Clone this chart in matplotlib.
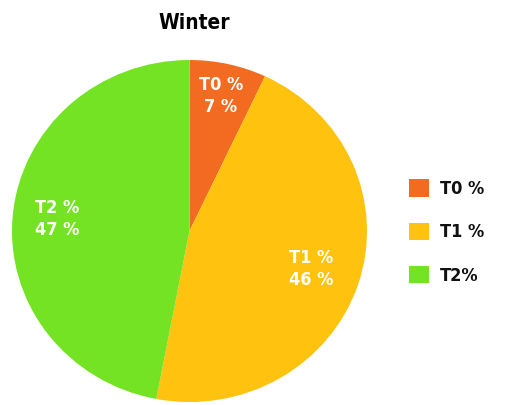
import matplotlib.pyplot as plt
import numpy as np

# data
labels = ['T0 %', 'T1 %', 'T2%']
slice_text = ['T0 %', 'T1 %', 'T2 %']
values = [7, 46, 47]
colors = ['#F26B21', '#FFC20E', '#74E324']
text_r = [0.81, 0.72, 0.75]

fam = ['DejaVu Sans']

fig = plt.figure(figsize=(5.07, 4.05), dpi=100)
ax = fig.add_axes([12/507, 3/405, 355/507, 342/405])

wedges, _ = ax.pie(values, colors=colors, startangle=90, counterclock=False,
                   wedgeprops=dict(linewidth=0))
ax.set_aspect('auto')
ax.set_xlim(-1, 1)
ax.set_ylim(-1, 1)

# slice labels
for w, t, v, r in zip(wedges, slice_text, values, text_r):
    ang = np.deg2rad((w.theta1 + w.theta2) / 2)
    ax.text(r*np.cos(ang), r*np.sin(ang), t + '\n' + str(v) + ' %',
            ha='center', va='center', color='white', fontsize=13,
            fontweight='bold', linespacing=1.3, family=fam,
            fontstretch='condensed')

fig.text(194/507, 1 - 23/405, 'Winter', ha='center', va='center',
         fontsize=15, fontweight='bold', family=fam, fontstretch='condensed')

leg = fig.legend(wedges, labels, loc='center left', bbox_to_anchor=(393/507, 1 - 232/405),
                 frameon=False, handlelength=1.1, handleheight=1.1,
                 labelspacing=1.35, handletextpad=0.6,
                 prop=dict(size=13, weight='bold', family=fam, stretch='condensed'))
for t in leg.get_texts():
    t.set_color('#111111')

plt.savefig('out.png', dpi=100)
